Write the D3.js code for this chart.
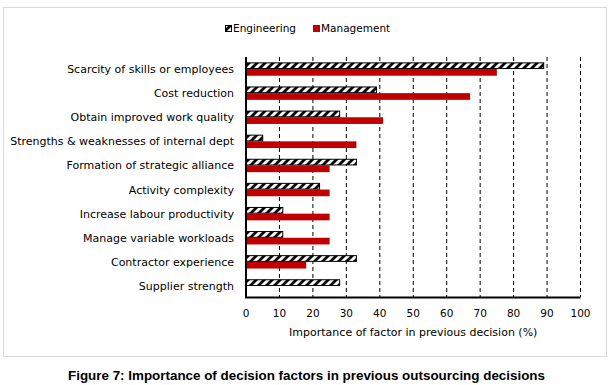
<!DOCTYPE html>
<html>
<head>
<meta charset="utf-8">
<script src="https://cdn.jsdelivr.net/npm/d3@7"></script>
<style>
  html, body { margin: 0; padding: 0; background: #fff; }
  svg { display: block; }
</style>
</head>
<body>
<svg id="chart" width="616" height="385"></svg>
<script>
const categories = [
  "Scarcity of skills or employees",
  "Cost reduction",
  "Obtain improved work quality",
  "Strengths & weaknesses of internal dept",
  "Formation of strategic alliance",
  "Activity complexity",
  "Increase labour productivity",
  "Manage variable workloads",
  "Contractor experience",
  "Supplier strength"
];
const seriesNames = ["Engineering", "Management"];
const engineering = [89, 39, 28, 5, 33, 22, 11, 11, 33, 28];
const management  = [75, 67, 41, 33, 25, 25, 25, 25, 18, 0];
const xTicks = [0, 10, 20, 30, 40, 50, 60, 70, 80, 90, 100];
const xTitle = "Importance of factor in previous decision (%)";
const caption = "Figure 7: Importance of decision factors in previous outsourcing decisions";

const svg = d3.select("#chart");
const font = "'DejaVu Sans', sans-serif";
const red = "#c00000";

// hatch pattern
const defs = svg.append("defs");
const pat = defs.append("pattern")
  .attr("id", "hatch").attr("patternUnits", "userSpaceOnUse")
  .attr("width", 8).attr("height", 8);
pat.append("rect").attr("width", 8).attr("height", 8).attr("fill", "#fff");
pat.append("path")
  .attr("d", "M-2,10 L10,-2 M-2,2 L2,-2 M6,10 L10,6")
  .attr("stroke", "#000").attr("stroke-width", 2.8);

// outer border
svg.append("rect").attr("x", 3.5).attr("y", 7.5).attr("width", 603).attr("height", 349)
  .attr("fill", "none").attr("stroke", "#d9d9d9").attr("stroke-width", 1);

const x = d3.scaleLinear().domain([0, 100]).range([246, 580.5]);
const y0 = d3.scaleBand().domain(categories).range([57, 298]).paddingInner(0).paddingOuter(0);
const y1 = d3.scaleBand().domain(seriesNames).range([0, y0.bandwidth()]).paddingInner(0).paddingOuter(0.8);

// gridlines
svg.append("g").selectAll("line").data(xTicks.filter(d => d > 0)).join("line")
  .attr("x1", d => x(d)).attr("x2", d => x(d))
  .attr("y1", 57).attr("y2", 297)
  .attr("stroke", "#000").attr("stroke-width", 1).attr("stroke-dasharray", "4,3");

const rows = categories.map((c, i) => ({cat: c, Engineering: engineering[i], Management: management[i]}));

const g = svg.append("g");
rows.forEach(r => {
  if (r.Management > 0) {
    g.append("rect")
      .attr("x", x(0)).attr("y", y0(r.cat) + y1("Management"))
      .attr("width", x(r.Management) - x(0)).attr("height", y1.bandwidth())
      .attr("fill", red);
  }
  g.append("rect")
    .attr("x", x(0)).attr("y", y0(r.cat) + y1("Engineering") + 0.5)
    .attr("width", x(r.Engineering) - x(0)).attr("height", y1.bandwidth() - 1)
    .attr("fill", "url(#hatch)").attr("stroke", "#000").attr("stroke-width", 1);
});

// axes lines
svg.append("line").attr("x1", x(0)).attr("x2", x(0)).attr("y1", 57).attr("y2", 298)
  .attr("stroke", "#000").attr("stroke-width", 2);
svg.append("line").attr("x1", x(0) - 1).attr("x2", x(100)).attr("y1", 297.5).attr("y2", 297.5)
  .attr("stroke", "#000").attr("stroke-width", 2);

// x tick labels
svg.append("g").selectAll("text").data(xTicks).join("text")
  .attr("x", d => x(d)).attr("y", 317)
  .attr("text-anchor", "middle")
  .attr("font-family", font).attr("font-size", 10.5).attr("fill", "#000")
  .text(d => d);

// axis title
svg.append("text").attr("x", (x(0) + x(100)) / 2).attr("y", 336)
  .attr("text-anchor", "middle").attr("font-family", font).attr("font-size", 11)
  .attr("fill", "#000").text(xTitle);

// category labels
svg.append("g").selectAll("text").data(categories).join("text")
  .attr("x", 234).attr("y", d => y0(d) + y0.bandwidth() / 2 + 4)
  .attr("text-anchor", "end")
  .attr("font-family", font).attr("font-size", 11).attr("fill", "#000")
  .text(d => d);

// legend
const leg = svg.append("g");
leg.append("rect").attr("x", 225.5).attr("y", 25.5).attr("width", 6).attr("height", 6)
  .attr("fill", "url(#hatch)").attr("stroke", "#000").attr("stroke-width", 1);
leg.append("text").attr("x", 233).attr("y", 32).attr("font-family", font).attr("font-size", 10.5)
  .text(seriesNames[0]);
leg.append("rect").attr("x", 313).attr("y", 25).attr("width", 7).attr("height", 7).attr("fill", red);
leg.append("text").attr("x", 321).attr("y", 32).attr("font-family", font).attr("font-size", 10.5)
  .text(seriesNames[1]);

// caption
svg.append("text").attr("x", 306.5).attr("y", 379.5)
  .attr("text-anchor", "middle").attr("font-family", "'Liberation Sans', Arial, sans-serif")
  .attr("font-weight", "bold").attr("font-size", 13.4).attr("fill", "#000")
  .text(caption);
</script>
</body>
</html>
